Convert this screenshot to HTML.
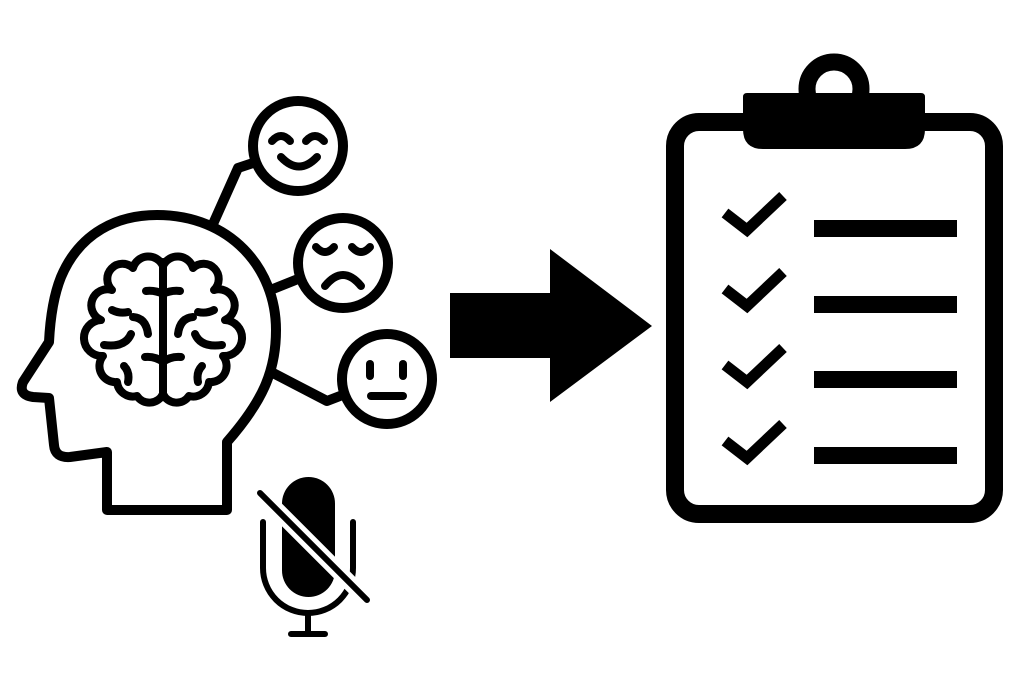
<!DOCTYPE html>
<html><head><meta charset="utf-8"><style>html,body{margin:0;padding:0;background:#fff}svg{display:block}</style></head>
<body>
<svg width="1024" height="683" viewBox="0 0 1024 683" xmlns="http://www.w3.org/2000/svg">
<rect width="1024" height="683" fill="#fff"/>
<g fill="none" stroke="#000" stroke-width="10" stroke-linejoin="round" stroke-linecap="round">
  <!-- head -->
  <path d="M107,510 L107,452 L70,457 Q55,458 54,445 L49,398 L33,397 Q18,395 23,382 L49,342 Q51,302 61,277 C80,232 118,215 157,215 C230,215 276,268 276,330 C276,372 262,402 227,442 L227,510 Z"/>
  <!-- connectors -->
  <polyline points="213,224 238,168 253,163"/>
  <polyline points="273,289 298,279"/>
  <polyline points="273,373 327,401 340,396"/>
  <!-- emoji circles -->
  <circle cx="298" cy="146" r="45"/>
  <circle cx="343" cy="263" r="45"/>
  <circle cx="387" cy="379" r="45"/>
</g>
<g fill="none" stroke="#000" stroke-width="8" stroke-linecap="round" stroke-linejoin="round">
  <!-- happy -->
  <path d="M272,141 Q281,131 290,141"/>
  <path d="M306,141 Q315,131 324,141"/>
  <path d="M281,157 Q299,176 317,157"/>
  <!-- sad -->
  <path d="M316,247 Q325,257 334,247"/>
  <path d="M352,247 Q361,257 370,247"/>
  <path d="M325,286 Q343,264 361,286"/>
  <!-- neutral -->
  <path d="M370,364 L370,376"/>
  <path d="M403,364 L403,376"/>
  <path d="M371,396 L403,396"/>
  <!-- brain -->
  <path d="M163,262 L163,397"/>
  <path d="M163,266 A16,16 0 0 0 133,268 A15,15 0 0 0 112,290 A16,16 0 0 0 101,320 A18,18 0 0 0 103,356 A16,16 0 0 0 117,382 A16,16 0 0 0 137,396 A15,15 0 0 0 163,394"/>
  <path d="M163,266 A16,16 0 0 1 193,268 A15,15 0 0 1 214,290 A16,16 0 0 1 225,320 A18,18 0 0 1 223,356 A16,16 0 0 1 209,382 A16,16 0 0 1 189,396 A15,15 0 0 1 163,394"/>
  <path d="M163,294 Q155,290 146,291"/>
  <path d="M163,294 Q171,290 180,291"/>
  <path d="M163,362 Q155,356 145,357"/>
  <path d="M163,362 Q171,356 181,357"/>
  <path d="M112,310 Q120,314 128,312"/>
  <path d="M214,310 Q206,314 198,312"/>
  <path d="M133,317 Q146,318 148,334"/>
  <path d="M193,317 Q180,318 178,334"/>
  <path d="M104,345 Q125,348 131,334"/>
  <path d="M222,345 Q201,348 195,334"/>
  <path d="M128,382 Q130,372 124,366"/>
  <path d="M198,382 Q196,372 202,366"/>
</g>
<!-- mic -->
<rect x="282" y="477" width="53" height="120" rx="26.5" fill="#000"/>
<g fill="none" stroke="#000" stroke-width="6" stroke-linecap="round">
  <path d="M263,522 L263,568 A45,45 0 0 0 353,568 L353,522"/>
  <path d="M308,613 L308,634"/>
  <path d="M291,634 L325,634"/>
</g>
<path d="M260,493 L367,600" stroke="#fff" stroke-width="16" stroke-linecap="round"/>
<path d="M260,493 L367,600" stroke="#000" stroke-width="6" stroke-linecap="round"/>
<!-- arrow -->
<polygon points="450,293 550,293 550,249 652,326 550,402 550,358 450,358" fill="#000"/>
<!-- clipboard -->
<rect x="675" y="122" width="319" height="392" rx="24" fill="none" stroke="#000" stroke-width="18"/>
<circle cx="834" cy="89" r="27" fill="none" stroke="#000" stroke-width="17"/>
<path d="M747,93 L921,93 Q925,93 925,97 L925,129 Q925,149 905,149 L763,149 Q743,149 743,129 L743,97 Q743,93 747,93 Z" fill="#000"/>
<g fill="none" stroke="#000" stroke-width="11" stroke-linejoin="miter">
  <polyline points="725,213 747,230 783,196"/>
  <polyline points="725,289 747,306 783,272"/>
  <polyline points="725,365 747,382 783,348"/>
  <polyline points="725,441 747,458 783,424"/>
</g>
<g fill="#000">
  <rect x="814" y="220" width="143" height="17"/>
  <rect x="814" y="296" width="143" height="17"/>
  <rect x="814" y="371" width="143" height="17"/>
  <rect x="814" y="447" width="143" height="17"/>
</g>
</svg>
</body></html>
